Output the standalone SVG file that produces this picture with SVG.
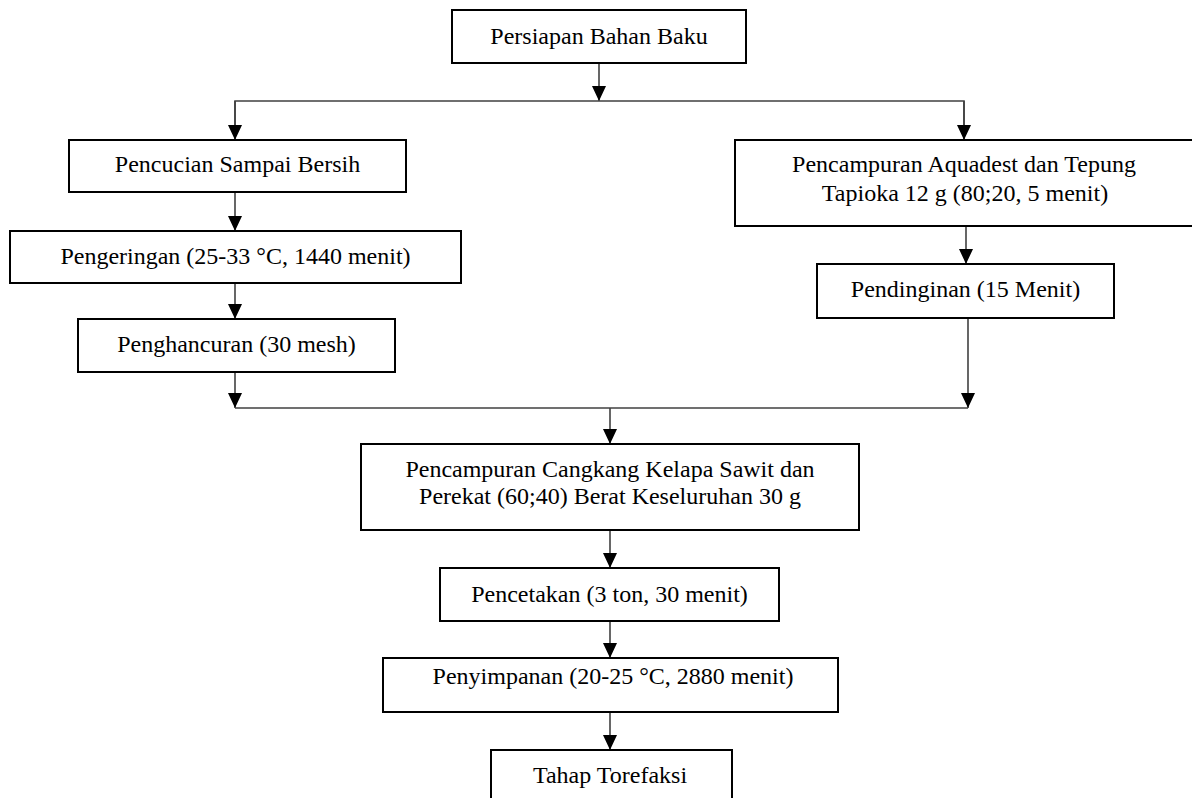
<svg xmlns="http://www.w3.org/2000/svg" width="1192" height="798" viewBox="0 0 1192 798">
<style>
.box{fill:#fff;stroke:#000;stroke-width:2}
.t{font-family:"Liberation Serif","Times New Roman",serif;font-size:24px;fill:#000;text-anchor:middle}
.c{fill:none;stroke:#404040;stroke-width:1.6}
</style>
<defs>
<marker id="ah" viewBox="0 0 15 14" markerWidth="15" markerHeight="14" refX="15" refY="7" orient="auto" markerUnits="userSpaceOnUse">
<path d="M0,0 L15,7 L0,14 z" fill="#000"/>
</marker>
</defs>
<rect width="1192" height="798" fill="#fff"/>
<g id="connectors">
<line class="c" x1="599" y1="63" x2="599" y2="101" marker-end="url(#ah)"/>
<polyline class="c" points="235,140 235,101 964,101 964,140"/>
<line class="c" x1="235" y1="101" x2="235" y2="140" marker-end="url(#ah)"/>
<line class="c" x1="964" y1="101" x2="964" y2="140" marker-end="url(#ah)"/>
<line class="c" x1="235" y1="192" x2="235" y2="231" marker-end="url(#ah)"/>
<line class="c" x1="235" y1="283" x2="235" y2="319" marker-end="url(#ah)"/>
<line class="c" x1="235" y1="372" x2="235" y2="408" marker-end="url(#ah)"/>
<line class="c" x1="966" y1="226" x2="966" y2="264" marker-end="url(#ah)"/>
<line class="c" x1="968" y1="318" x2="968" y2="408" marker-end="url(#ah)"/>
<line class="c" x1="235" y1="408" x2="968" y2="408"/>
<line class="c" x1="610" y1="408" x2="610" y2="444" marker-end="url(#ah)"/>
<line class="c" x1="610" y1="530" x2="610" y2="568" marker-end="url(#ah)"/>
<line class="c" x1="610" y1="621" x2="610" y2="658" marker-end="url(#ah)"/>
<line class="c" x1="610" y1="712" x2="610" y2="750" marker-end="url(#ah)"/>
</g>
<g id="n1"><rect class="box" x="452" y="10" width="294" height="53"/><text class="t" x="599" y="44">Persiapan Bahan Baku</text></g>
<g id="n2"><rect class="box" x="69" y="140" width="337" height="52"/><text class="t" x="237.5" y="172">Pencucian Sampai Bersih</text></g>
<g id="n3"><rect class="box" x="10" y="231" width="451" height="52"/><text class="t" x="235.5" y="264">Pengeringan (25-33 °C, 1440 menit)</text></g>
<g id="n4"><rect class="box" x="78" y="319" width="317" height="53"/><text class="t" x="236.5" y="352">Penghancuran (30 mesh)</text></g>
<g id="n5"><rect class="box" x="735" y="140" width="458" height="86"/><text class="t" x="964" y="172">Pencampuran Aquadest dan Tepung</text><text class="t" x="965" y="201">Tapioka 12 g (80;20, 5 menit)</text></g>
<g id="n6"><rect class="box" x="817" y="264" width="297" height="54"/><text class="t" x="965.5" y="297">Pendinginan (15 Menit)</text></g>
<g id="n7"><rect class="box" x="361" y="444" width="498" height="86"/><text class="t" x="610" y="477">Pencampuran Cangkang Kelapa Sawit dan</text><text class="t" x="610" y="504">Perekat (60;40) Berat Keseluruhan 30 g</text></g>
<g id="n8"><rect class="box" x="440" y="568" width="339" height="53"/><text class="t" x="609.5" y="602">Pencetakan (3 ton, 30 menit)</text></g>
<g id="n9"><rect class="box" x="383" y="658" width="455" height="54"/><text class="t" x="613" y="684">Penyimpanan (20-25 °C, 2880 menit)</text></g>
<g id="n10"><rect class="box" x="491" y="750" width="241" height="70"/><text class="t" x="610" y="783">Tahap Torefaksi</text></g>
</svg>
